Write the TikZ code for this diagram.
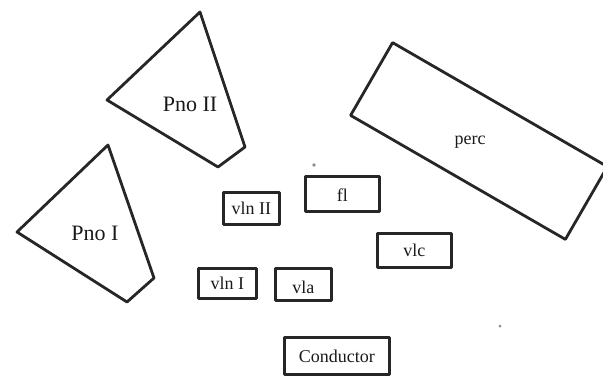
\documentclass[tikz,border=0pt]{standalone}
\usepackage{fontspec}
\setmainfont{Liberation Serif}
\begin{document}
\begin{tikzpicture}[x=1pt,y=-1pt,
  stand/.style={draw=black!85, line width=2.8pt, line join=round},
  seat/.style={stand, rectangle, inner sep=0pt, anchor=north west},
  lbl/.style={font=\fontsize{18}{20}\selectfont, inner sep=0pt, text=black!90},
  pnolbl/.style={font=\fontsize{22}{24}\selectfont, inner sep=0pt, text=black!90}]
  \useasboundingbox (0,0) rectangle (603,384);

  % pianos
  \draw[stand] (107,100) -- (200,12) -- (245,147) -- (218,167) -- cycle;
  \node[pnolbl] (pno2) at (190,104) {Pno II};
  \draw[stand] (17,232) -- (108,145) -- (154,278) -- (127,302) -- cycle;
  \node[pnolbl] (pno1) at (95,233) {Pno I};

  % percussion platform
  \node[stand, rectangle, minimum width=248pt, minimum height=84pt, rotate=-30] (percbox) at (479,141) {};
  \node[lbl] (perc) at (470,142) {perc};

  % string and wind desks
  \node[seat, minimum width=56pt, minimum height=32pt] (vln2) at (222,191) {};
  \node[lbl] at (vln2.center) {vln II};
  \node[seat, minimum width=74pt, minimum height=35pt] (fl) at (304,175) {};
  \node[lbl] at ([yshift=-1pt]fl.center) {fl};
  \node[seat, minimum width=74pt, minimum height=34pt] (vlc) at (376,232) {};
  \node[lbl] at (vlc.center) {vlc};
  \node[seat, minimum width=58pt, minimum height=30pt] (vln1) at (197,267) {};
  \node[lbl] at (vln1.center) {vln I};
  \node[seat, minimum width=56pt, minimum height=32pt] (vla) at (274,267) {};
  \node[lbl] at ([yshift=-3pt]vla.center) {vla};

  % conductor
  \node[seat, minimum width=105pt, minimum height=37pt] (cond) at (283,336) {};
  \node[lbl] at (cond.center) {Conductor};

  % specks
  \fill[black!45] (314,165) circle (1.8pt);
  \fill[black!45] (500,326) circle (1.5pt);
\end{tikzpicture}
\end{document}
